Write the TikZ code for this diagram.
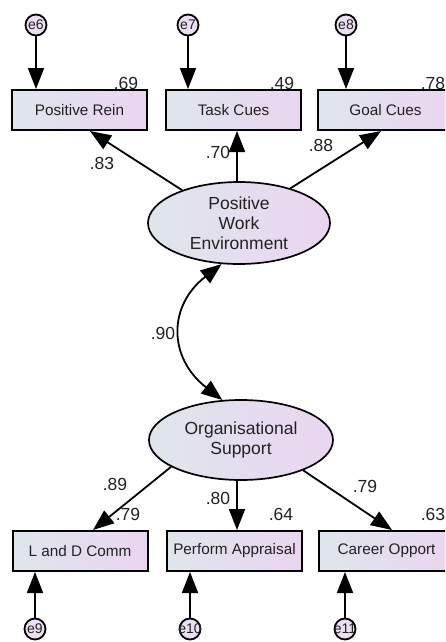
\documentclass[tikz,border=0pt]{standalone}
\usepackage{fontspec}
\setmainfont{Liberation Sans}
\usetikzlibrary{shapes.geometric,arrows.meta}

\definecolor{boxL}{RGB}{223,230,236}
\definecolor{boxR}{RGB}{234,213,241}
\definecolor{errfill}{RGB}{236,222,243}
\definecolor{txt}{RGB}{34,34,34}

\tikzset{
  obs/.style={draw=black, line width=2pt, minimum width=135pt, minimum height=40pt,
    inner sep=0pt, left color=boxL, right color=boxR, text=txt,
    font=\fontsize{15.3}{18}\selectfont},
  lat/.style={ellipse, draw=black, line width=1.7pt, inner sep=-8pt,
    left color=boxL, right color=boxR, text=txt, align=center,
    font=\fontsize{17.5}{20}\selectfont},
  err/.style={circle, draw=black, line width=1.8pt, fill=errfill, minimum size=21pt,
    inner sep=-5pt, text=txt, font=\fontsize{14}{14}\selectfont},
  coef/.style={inner sep=0pt, text=txt, font=\fontsize{17.5}{20}\selectfont},
  arr/.style={line width=1.8pt, -{Triangle[length=21pt,width=16pt]}},
  arrboth/.style={line width=1.8pt,
    {Triangle[length=21pt,width=16pt]}-{Triangle[length=21pt,width=16pt]}}
}

\begin{document}
\begin{tikzpicture}[x=1pt, y=-1pt]
  \clip (0,0) rectangle (445,642);
  \fill[white] (0,0) rectangle (445,642);

  % latent factors
  \node[lat, minimum width=182pt, minimum height=82pt] (pwe) at (239,223)
    {Positive\\Work\\Environment};
  \node[lat, minimum width=184pt, minimum height=80pt] (os) at (241,440)
    {Organisational\\Support};

  % indicators of Positive Work Environment
  \node[obs] (pr) at (79.5,110) {Positive Rein};
  \node[obs] (tc) at (233.5,110) {Task Cues};
  \node[obs] (gc) at (385.5,110) {Goal Cues};

  % indicators of Organisational Support
  \node[obs] (ld) at (80,551) {L and D Comm};
  \node[obs] (pa) at (234.5,551) {Perform Appraisal};
  \node[obs] (co) at (386.5,551) {Career Opport};

  % error terms
  \node[err] (e6) at (36,25) {e6};
  \node[err] (e7) at (188,25) {e7};
  \node[err] (e8) at (346,25) {e8};
  \node[err] (e9) at (35,629) {e9};
  \node[err] (e10) at (190,629) {e10};
  \node[err] (e11) at (345,629) {e11};

  % arrow tips on the boxes
  \coordinate (tpr) at ([xshift=10.5pt]pr.south);
  \coordinate (ttc) at ([xshift=3.5pt]tc.south);
  \coordinate (tgc) at ([xshift=-4.5pt]gc.south);
  \coordinate (tld) at ([xshift=13pt]ld.north);
  \coordinate (tpa) at ([xshift=2.5pt]pa.north);
  \coordinate (tco) at ([xshift=5.5pt]co.north);

  % error paths
  \draw[arr] (e6) -- (e6 |- pr.north);
  \draw[arr] (e7) -- (e7 |- tc.north);
  \draw[arr] (e8) -- (e8 |- gc.north);
  \draw[arr] (e9) -- (e9 |- ld.south);
  \draw[arr] (e10) -- (e10 |- pa.south);
  \draw[arr] (e11) -- (e11 |- co.south);

  % loadings
  \draw[arr] (pwe.150) -- (tpr);
  \draw[arr] (pwe.north -| ttc) -- (ttc);
  \draw[arr] (pwe.34) -- (tgc);
  \draw[arr] (os.201) -- (tld);
  \draw[arr] (os.south -| tpa) -- (tpa);
  \draw[arr] (os.334) -- (tco);

  % correlation between the factors
  \draw[arrboth] (pwe.247) .. controls +(-54,42) and +(-54,-42) .. (os.115);

  % estimates
  \node[coef] (r69) at (126,83) {.69};
  \node[coef] (r49) at (282,83) {.49};
  \node[coef] (r78) at (433,83) {.78};
  \node[coef] (l83) at (102,163) {.83};
  \node[coef] (l70) at (218,152) {.70};
  \node[coef] (l88) at (321,145) {.88};
  \node[coef] (c90) at (163,333) {.90};
  \node[coef] (l89) at (115,484) {.89};
  \node[coef] (r79) at (128,514) {.79};
  \node[coef] (l80) at (218,498) {.80};
  \node[coef] (r64) at (281,514) {.64};
  \node[coef] (l79) at (365,486) {.79};
  \node[coef] (r63) at (433,514) {.63};
\end{tikzpicture}
\end{document}
